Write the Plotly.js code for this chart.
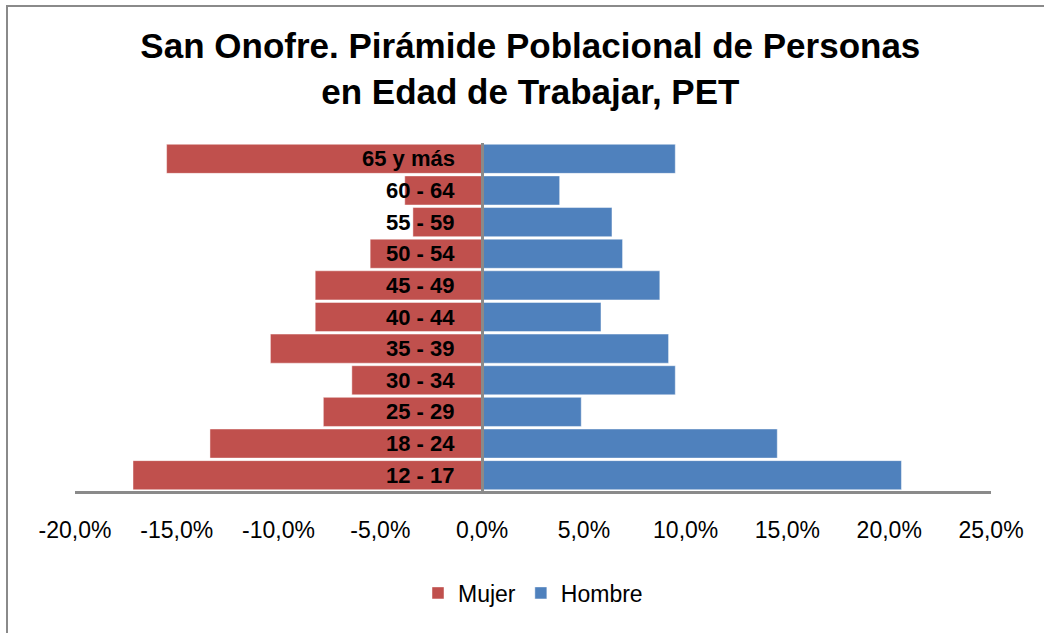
<!DOCTYPE html>
<html>
<head>
<meta charset="utf-8">
<script src="https://cdn.plot.ly/plotly-3.0.1.min.js"></script>
<style>
  html, body { margin: 0; padding: 0; background: #ffffff; }
  #wrap { position: relative; width: 1044px; height: 633px; overflow: hidden; }
  #chart { width: 1044px; height: 633px; }
  #frame { position: absolute; left: 6px; top: 5px; width: 1100px; height: 700px;
           border-left: 2px solid #8a8a8a; border-top: 2px solid #8a8a8a; pointer-events: none; }
</style>
</head>
<body>
<div id="wrap">
  <div id="chart"></div>
  <div id="frame"></div>
</div>
<script>
// Age groups, bottom to top
const categories = ['12 - 17', '18 - 24', '25 - 29', '30 - 34', '35 - 39', '40 - 44',
                    '45 - 49', '50 - 54', '55 - 59', '60 - 64', '65 y más'];
// Percent of PET (women drawn to the left)
const mujer  = [17.15, 13.37, 7.8, 6.4, 10.4, 8.2, 8.2, 5.5, 3.4, 3.8, 15.5];
const hombre = [20.6, 14.5, 4.87, 9.49, 9.16, 5.84, 8.73, 6.9, 6.38, 3.81, 9.49];
// X axis ticks
const tickVals = [-20, -15, -10, -5, 0, 5, 10, 15, 20, 25];
const tickText = ['-20,0%', '-15,0%', '-10,0%', '-5,0%', '0,0%', '5,0%', '10,0%', '15,0%', '20,0%', '25,0%'];

const xMin = -20, xMax = 25;
const FONT = 'Liberation Sans, Arial, sans-serif';

const traces = [
  {
    type: 'bar', orientation: 'h', name: 'Mujer',
    y: categories, x: mujer.map(v => -v),
    marker: { color: '#C0504D', line: { color: 'rgba(255,255,255,0.45)', width: 1 } },
    hovertemplate: '%{y}: ' + '%{customdata:.1f}%<extra>Mujer</extra>',
    customdata: mujer
  },
  {
    type: 'bar', orientation: 'h', name: 'Hombre',
    y: categories, x: hombre,
    marker: { color: '#4F81BD', line: { color: 'rgba(255,255,255,0.45)', width: 1 } },
    hovertemplate: '%{y}: %{x:.1f}%<extra>Hombre</extra>'
  }
];

const annotations = categories.map(c => ({
  x: 0, y: c, xref: 'x', yref: 'y',
  text: c, showarrow: false, xanchor: 'right', yanchor: 'middle', xshift: -25,
  font: { family: FONT, size: 22, color: '#000000', weight: 'bold' }
}));

const layout = {
  width: 1044, height: 633,
  margin: { l: 75, r: 53, t: 143, b: 142 },
  paper_bgcolor: '#ffffff', plot_bgcolor: '#ffffff',
  barmode: 'relative', bargap: 0.08,
  title: {
    text: '<b>San Onofre. Pirámide Poblacional de Personas<br>en Edad de Trabajar, PET</b>',
    font: { family: FONT, size: 35, color: '#000000' },
    x: 0.508, xanchor: 'center', y: 0.908, yanchor: 'top'
  },
  xaxis: {
    range: [xMin, xMax], tickvals: tickVals, ticktext: tickText,
    showgrid: false, zeroline: false, showline: true, linecolor: '#8a8a8a', linewidth: 2.5,
    ticks: '', ticklabelstandoff: 17,
    tickfont: { family: FONT, size: 23, color: '#000000' }
  },
  yaxis: {
    type: 'category', showticklabels: false, showgrid: false, zeroline: false,
    showline: true, linecolor: '#8a8a8a', linewidth: 2.5, ticks: '',
    anchor: 'free', position: (0 - xMin) / (xMax - xMin)
  },
  showlegend: true,
  legend: {
    orientation: 'h', x: 0.5, xanchor: 'center', y: -0.293, yanchor: 'middle',
    font: { family: FONT, size: 23, color: '#000000' },
    traceorder: 'normal', itemclick: false
  },
  annotations: annotations
};

Plotly.newPlot('chart', traces, layout, { displayModeBar: false, staticPlot: true });
</script>
</body>
</html>
